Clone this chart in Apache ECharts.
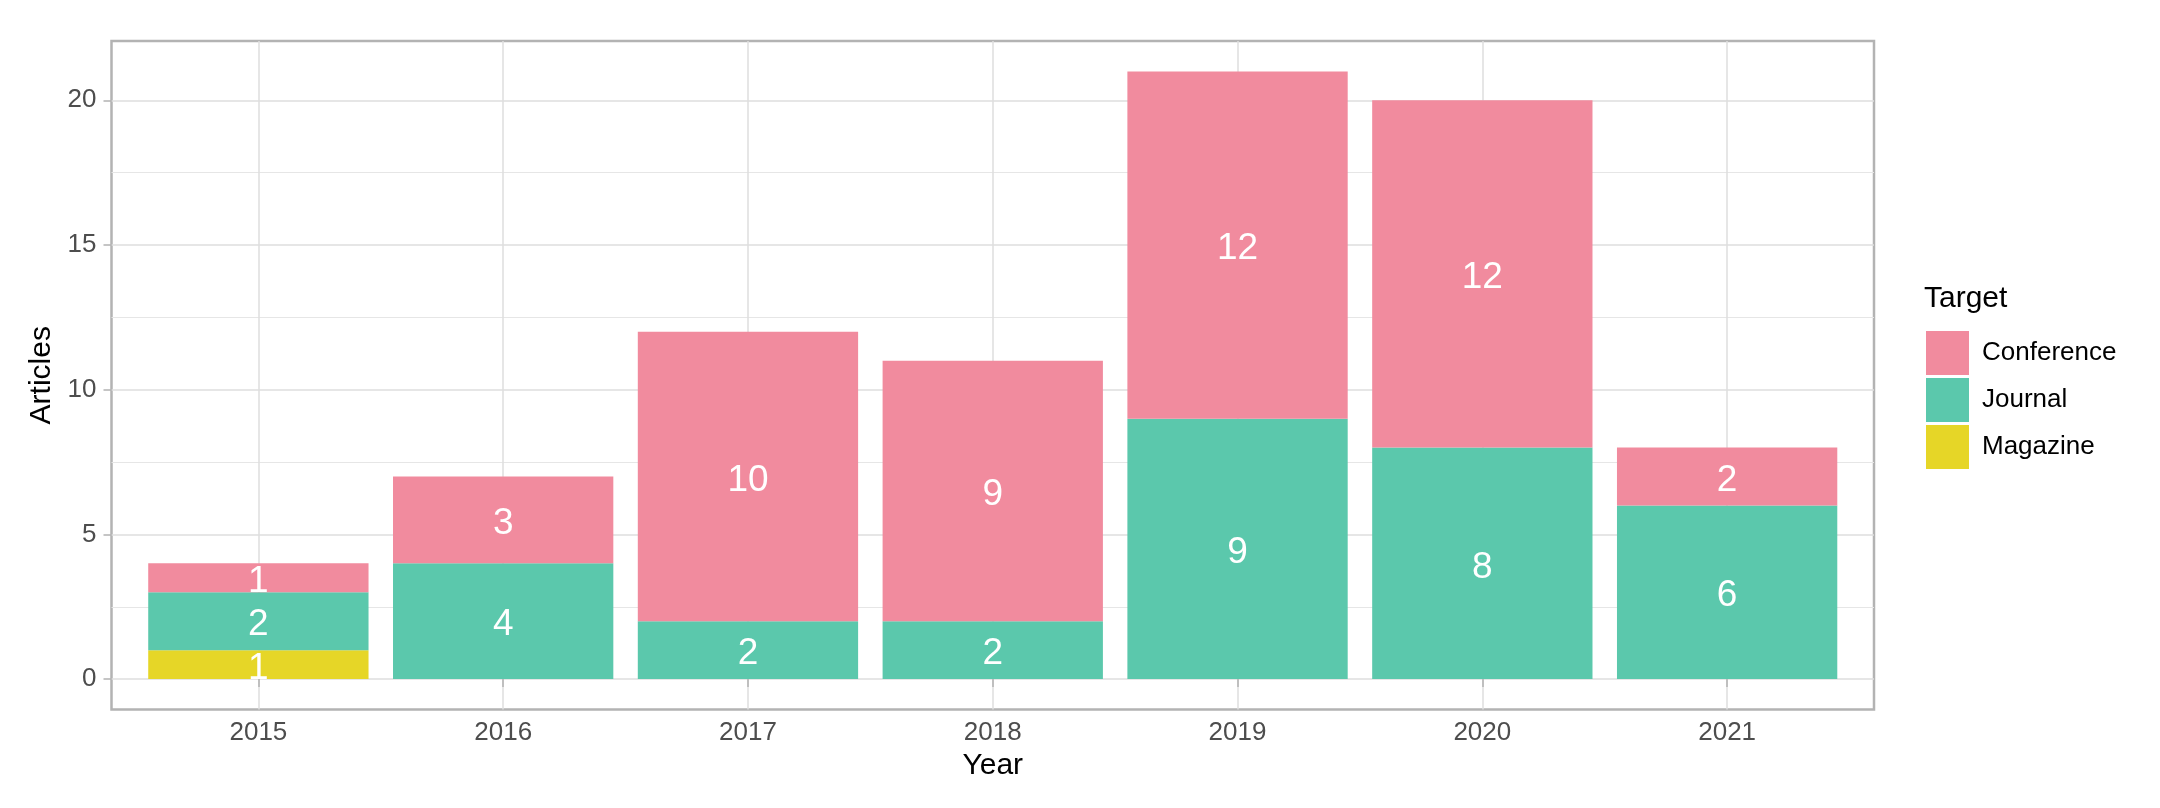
<!DOCTYPE html>
<html>
<head>
<meta charset="utf-8">
<script src="https://cdn.jsdelivr.net/npm/echarts@6/dist/echarts.min.js"></script>
<style>
  html, body { margin: 0; padding: 0; background: #ffffff; }
  #chart { width: 2160px; height: 808px; }
</style>
</head>
<body>
<div id="chart"></div>
<script>
// ---- data ----
const years = ['2015', '2016', '2017', '2018', '2019', '2020', '2021'];
const conference = [1, 3, 10, 9, 12, 12, 2];
const journal = [2, 4, 2, 2, 9, 8, 6];
const magazine = [1, 0, 0, 0, 0, 0, 0];
const yMajorTicks = [0, 5, 10, 15, 20];
const yMinorTicks = [2.5, 7.5, 12.5, 17.5];
const seriesNames = ['Conference', 'Journal', 'Magazine'];

const colors = { Conference: '#F18B9E', Journal: '#5BC8AC', Magazine: '#E6D627' };
const FONT = '"Liberation Sans", Arial, sans-serif';
const xPositions = years.map((y, i) => i + 1);

// value first (stacked dimension), category position second
function toPairs(arr) { return arr.map((v, i) => [v, xPositions[i]]); }

function barSeries(name, arr) {
  return {
    name: name,
    type: 'bar',
    stack: 'total',
    barWidth: '90%',
    encode: { x: 1, y: 0 },
    data: toPairs(arr),
    itemStyle: { color: colors[name] },
    label: {
      show: true,
      position: 'inside',
      offset: [0, 4],
      color: '#ffffff',
      fontFamily: FONT,
      fontSize: 37,
      formatter: p => (p.value[0] === 0 ? '' : String(p.value[0]))
    },
    emphasis: { disabled: true }
  };
}

const chart = echarts.init(document.getElementById('chart'), null, { renderer: 'canvas' });
chart.setOption({
  animation: false,
  backgroundColor: '#ffffff',
  title: {
    text: 'Target',
    left: 1919,
    top: 279,
    textStyle: { fontFamily: FONT, fontSize: 30, fontWeight: 'normal', color: '#000000' }
  },
  legend: {
    data: seriesNames,
    orient: 'vertical',
    left: 1921,
    top: 326,
    itemWidth: 43,
    itemHeight: 44,
    itemGap: 3,
    icon: 'rect',
    selectedMode: false,
    textStyle: { fontFamily: FONT, fontSize: 26, color: '#000000', padding: [0, 0, 0, 8] }
  },
  grid: {
    left: 111.5,
    right: 286,
    top: 41,
    bottom: 98.5,
    show: true,
    borderColor: '#B3B3B3',
    borderWidth: 2.5,
    backgroundColor: '#ffffff',
    containLabel: false
  },
  xAxis: {
    type: 'value',
    min: 0.4,
    max: 7.6,
    name: 'Year',
    nameLocation: 'middle',
    nameGap: 40,
    nameTextStyle: { fontFamily: FONT, fontSize: 30, color: '#000000' },
    axisLine: { show: false },
    axisTick: { show: true, length: 8, customValues: xPositions, lineStyle: { color: '#B3B3B3', width: 1.5 } },
    axisLabel: {
      customValues: xPositions,
      margin: 10,
      fontFamily: FONT, fontSize: 26, color: '#4D4D4D',
      formatter: v => years[Math.round(v) - 1] || ''
    },
    splitLine: { show: true, lineStyle: { color: '#DEDEDE', width: 1.5 } }
  },
  yAxis: [
    {
      type: 'value',
      min: -1.05,
      max: 22.05,
      name: 'Articles',
      nameLocation: 'middle',
      nameGap: 48,
      nameTextStyle: { fontFamily: FONT, fontSize: 30, color: '#000000' },
      axisLine: { show: false },
      axisTick: { show: true, length: 8, customValues: yMajorTicks, lineStyle: { color: '#B3B3B3', width: 1.5 } },
      axisLabel: {
        customValues: yMajorTicks,
        margin: 15,
        fontFamily: FONT, fontSize: 26, color: '#4D4D4D'
      },
      splitLine: { show: true, lineStyle: { color: '#DEDEDE', width: 1.5 } }
    },
    {
      type: 'value',
      min: -1.05,
      max: 22.05,
      position: 'left',
      axisLine: { show: false },
      axisTick: { show: false, customValues: yMinorTicks },
      axisLabel: { show: false, customValues: yMinorTicks },
      splitLine: { show: true, lineStyle: { color: '#E6E6E6', width: 1.2 } }
    }
  ],
  series: [
    barSeries('Magazine', magazine),
    barSeries('Journal', journal),
    barSeries('Conference', conference)
  ]
});
</script>
</body>
</html>
